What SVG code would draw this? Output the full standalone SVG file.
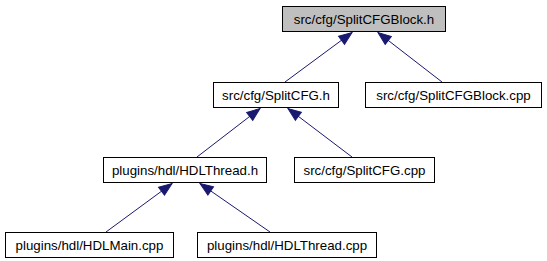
<svg xmlns="http://www.w3.org/2000/svg" width="547" height="261" viewBox="0 0 547 261">
  <defs>
    <!-- filled arrowhead, tip at the included header -->
    <marker id="arrow" viewBox="0 -6 14 12" refX="13" refY="0" markerUnits="userSpaceOnUse" markerWidth="14" markerHeight="12" orient="auto-start-reverse" overflow="visible">
      <path d="M0,-5 L13,0 L0,5 z" fill="#191970" stroke="#191970" stroke-width="1"/>
    </marker>
  </defs>
  <style>
    .node rect { fill: #ffffff; stroke: #000000; stroke-width: 1; }
    .node.root rect { fill: #bfbfbf; }
    .node text { font-family: "Liberation Sans", Arial, sans-serif; font-size: 13.3px; fill: #000000; text-anchor: middle; }
    .edge { stroke: #191970; stroke-width: 1; fill: none; marker-start: url(#arrow); }
  </style>
  <rect width="547" height="261" fill="#ffffff"/>

  <g id="edges">
    <line class="edge" x1="352" y1="32.5" x2="285" y2="82"/>
    <line class="edge" x1="378" y1="32.5" x2="442" y2="82"/>
    <line class="edge" x1="260" y1="108.5" x2="197" y2="157"/>
    <line class="edge" x1="288" y1="108.5" x2="352" y2="157"/>
    <line class="edge" x1="172" y1="183.5" x2="106" y2="232"/>
    <line class="edge" x1="200" y1="183.5" x2="270" y2="232"/>
  </g>

  <g id="node-splitcfgblock-h" class="node root">
    <rect x="282.5" y="6.5" width="163" height="25"/>
    <text x="364" y="23.5">src/cfg/SplitCFGBlock.h</text>
  </g>
  <g id="node-splitcfg-h" class="node">
    <rect x="213.5" y="82.5" width="125" height="25"/>
    <text x="276" y="99.5">src/cfg/SplitCFG.h</text>
  </g>
  <g id="node-splitcfgblock-cpp" class="node">
    <rect x="365.5" y="82.5" width="176" height="25"/>
    <text x="453.5" y="99.5">src/cfg/SplitCFGBlock.cpp</text>
  </g>
  <g id="node-hdlthread-h" class="node">
    <rect x="103.5" y="157.5" width="163" height="25"/>
    <text x="185" y="174.5">plugins/hdl/HDLThread.h</text>
  </g>
  <g id="node-splitcfg-cpp" class="node">
    <rect x="294.5" y="157.5" width="140" height="25"/>
    <text x="364.5" y="174.5">src/cfg/SplitCFG.cpp</text>
  </g>
  <g id="node-hdlmain-cpp" class="node">
    <rect x="5.5" y="232.5" width="168" height="25"/>
    <text x="89.5" y="249.5">plugins/hdl/HDLMain.cpp</text>
  </g>
  <g id="node-hdlthread-cpp" class="node">
    <rect x="197.5" y="232.5" width="179" height="25"/>
    <text x="287" y="249.5">plugins/hdl/HDLThread.cpp</text>
  </g>
</svg>
